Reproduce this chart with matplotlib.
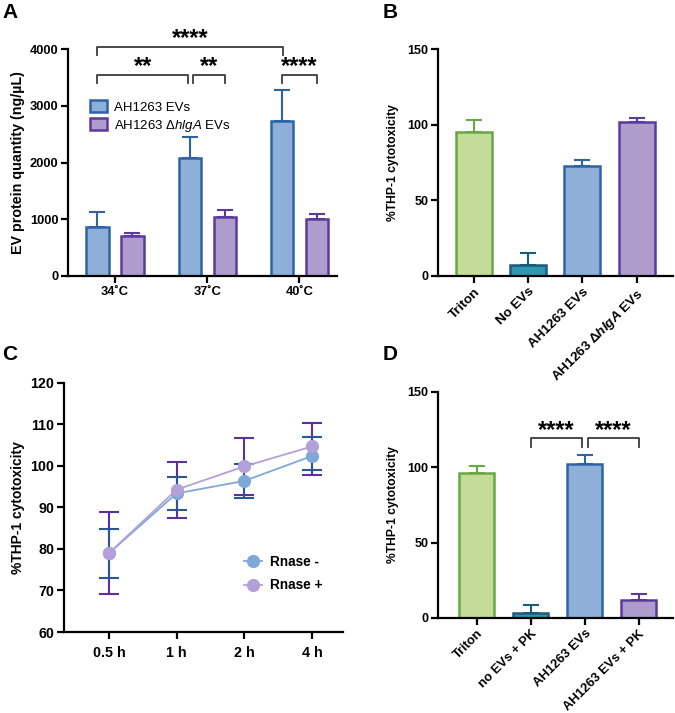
import numpy as np
import matplotlib
matplotlib.use("Agg")
import matplotlib.pyplot as plt
from matplotlib.patches import Patch
from matplotlib.lines import Line2D

plt.rcParams['font.family'] = ['Liberation Sans', 'DejaVu Sans']
plt.rcParams['mathtext.fontset'] = 'custom'
plt.rcParams['mathtext.it'] = 'Liberation Sans:italic'
plt.rcParams['mathtext.bf'] = 'Liberation Sans:bold'
plt.rcParams['mathtext.bfit'] = 'Liberation Sans:bold:italic'
plt.rcParams['mathtext.rm'] = 'Liberation Sans'

# ---- data ----
# panel A
temps = ['34˚C', '37˚C', '40˚C']
ev_wt = [870, 2075, 2740]
ev_wt_err = [265, 372, 535]
ev_ko = [712, 1035, 1000]
ev_ko_err = [53, 130, 88]

# panel B
b_groups = ['Triton', 'No EVs', 'AH1263 EVs', r'AH1263 Δ$\mathbfit{hlgA}$ EVs']
b_vals = [95.0, 7.5, 72.5, 101.7]
b_err = [7.9, 7.7, 3.9, 2.6]

# panel C
times = ['0.5 h', '1 h', '2 h', '4 h']
rn_minus = [79.0, 93.4, 96.4, 102.4]
rn_minus_lo = [73.0, 89.4, 92.2, 99.0]
rn_minus_hi = [84.9, 97.3, 100.6, 107.0]
rn_plus = [79.0, 94.3, 99.9, 104.7]
rn_plus_lo = [69.1, 87.4, 92.9, 97.9]
rn_plus_hi = [88.8, 100.9, 106.7, 110.4]

# panel D
d_groups = ['Triton', 'no EVs + PK', 'AH1263 EVs', 'AH1263 EVs + PK']
d_vals = [96.2, 3.3, 102.4, 11.7]
d_err = [4.5, 5.5, 6.0, 4.2]

# colours
GREEN = ('#c4dc98', '#67a845')
TEAL = ('#2e97b2', '#1d5b7c')
BLUE = ('#8eafd8', '#2e63a6')
PURPLE = ('#ae9ccc', '#5b3a9e')
BRACKET = '#3a3a3a'


def style_axes(ax, tick_size):
    for s in ['top', 'right']:
        ax.spines[s].set_visible(False)
    for s in ['left', 'bottom']:
        ax.spines[s].set_linewidth(1.6)
        ax.spines[s].set_color('black')
    ax.tick_params(width=1.6, length=5, labelsize=tick_size, pad=2)
    for lab in ax.get_yticklabels() + ax.get_xticklabels():
        lab.set_fontweight('bold')


def bar_with_err(ax, x, v, e, colors, width):
    fc, ec = colors
    ax.errorbar(x, v, yerr=[[0], [e]], fmt='none', ecolor=ec, elinewidth=1.5,
                capsize=6, capthick=1.5, zorder=1)
    ax.bar(x, v, width=width, color=fc, edgecolor=ec, linewidth=1.8, zorder=2)


def bracket(ax, x0, x1, y, leg, stars, ystar, fs=17):
    ax.plot([x0, x0, x1, x1], [y - leg, y, y, y - leg], color=BRACKET,
            lw=1.3, clip_on=False, zorder=3)
    ax.text((x0 + x1) / 2, ystar, stars, ha='center', va='center',
            fontsize=fs, fontweight='bold', clip_on=False)


fig = plt.figure(figsize=(6.75, 7.13), dpi=100)

# ---------------- A ----------------
axA = fig.add_axes([68 / 675, 1 - 276 / 713, 269 / 675, 227 / 713])
xa = np.arange(len(temps))
off, w = 0.19, 0.24
for i in range(len(temps)):
    bar_with_err(axA, xa[i] - off, ev_wt[i], ev_wt_err[i], BLUE, w)
    bar_with_err(axA, xa[i] + off, ev_ko[i], ev_ko_err[i], PURPLE, w)
axA.set_xlim(-0.51, 2.41)
axA.set_ylim(0, 4000)
axA.set_yticks([0, 1000, 2000, 3000, 4000])
axA.set_xticks(xa)
axA.set_xticklabels(temps)
axA.set_ylabel('EV protein quantity (ng/µL)', fontsize=10.3, fontweight='bold', labelpad=3)
style_axes(axA, 9.3)
bracket(axA, -0.19, 1.82, 4030, 136, '****', 4190)
bracket(axA, -0.19, 0.79, 3542, 141, '**', 3690)
bracket(axA, 0.845, 1.196, 3542, 141, '**', 3690)
bracket(axA, 1.81, 2.196, 3542, 141, '****', 3690)
handles = [Patch(facecolor=BLUE[0], edgecolor=BLUE[1], linewidth=1.8),
           Patch(facecolor=PURPLE[0], edgecolor=PURPLE[1], linewidth=1.8)]
axA.legend(handles, ['AH1263 EVs', r'AH1263 Δ$\mathit{hlgA}$ EVs'], loc='upper left',
           bbox_to_anchor=(0.082, 0.774), frameon=False, fontsize=9.5,
           handlelength=1.3, handleheight=1.0, handletextpad=0.5,
           labelspacing=0.3, borderpad=0, borderaxespad=0)

# ---------------- B ----------------
axB = fig.add_axes([438 / 675, 1 - 276 / 713, 235 / 675, 227 / 713])
xb = np.arange(len(b_groups))
b_cols = [GREEN, TEAL, BLUE, PURPLE]
for i in range(len(b_groups)):
    bar_with_err(axB, xb[i], b_vals[i], b_err[i], b_cols[i], 0.66)
axB.set_xlim(-0.66, 3.67)
axB.set_ylim(0, 150)
axB.set_yticks([0, 50, 100, 150])
axB.set_xticks(xb)
axB.set_xticklabels(b_groups, rotation=45, ha='right', rotation_mode='anchor')
axB.set_ylabel('%THP-1 cytotoxicity', fontsize=8.7, fontweight='bold', labelpad=6)
style_axes(axB, 9)
for lab in axB.get_xticklabels():
    lab.set_fontsize(9.7)

# ---------------- C ----------------
axC = fig.add_axes([64 / 675, 1 - 632 / 713, 279 / 675, 249 / 713])
xc = np.arange(len(times))
lo_m = np.array(rn_minus) - np.array(rn_minus_lo)
hi_m = np.array(rn_minus_hi) - np.array(rn_minus)
lo_p = np.array(rn_plus) - np.array(rn_plus_lo)
hi_p = np.array(rn_plus_hi) - np.array(rn_plus)
axC.errorbar(xc, rn_plus, yerr=[lo_p, hi_p], fmt='none', ecolor='#5a30a0',
             elinewidth=1.5, capsize=7, capthick=1.5, zorder=1)
axC.errorbar(xc, rn_minus, yerr=[lo_m, hi_m], fmt='none', ecolor='#2a5698',
             elinewidth=1.5, capsize=7, capthick=1.5, zorder=2)
axC.plot(xc, rn_minus, '-o', color='#7fa8da', lw=1.3, ms=8.5, zorder=3)
axC.plot(xc, rn_plus, '-o', color='#b3a0d8', lw=1.3, ms=8.5, zorder=4)
axC.set_xlim(-0.665, 3.46)
axC.set_ylim(60, 120)
axC.set_yticks(np.arange(60, 121, 10))
axC.set_xticks(xc)
axC.set_xticklabels(times)
axC.set_ylabel('%THP-1 cytotoxicity', fontsize=10, fontweight='bold', labelpad=4)
style_axes(axC, 10.3)
axC.tick_params(axis='x', pad=5)
hC = [Line2D([0], [0], color='#7fa8da', marker='o', ms=8.5, lw=1.3),
      Line2D([0], [0], color='#b3a0d8', marker='o', ms=8.5, lw=1.3)]
legC = axC.legend(hC, ['Rnase -', 'Rnase +'], loc='upper left',
                  bbox_to_anchor=(0.645, 0.31), frameon=False, fontsize=9.8,
                  handlelength=1.3, handletextpad=0.6, labelspacing=0.7,
                  borderpad=0, borderaxespad=0)
for t in legC.get_texts():
    t.set_fontweight('bold')

# ---------------- D ----------------
axD = fig.add_axes([438 / 675, 1 - 618 / 713, 235 / 675, 226 / 713])
xd = np.arange(len(d_groups))
d_cols = [GREEN, TEAL, BLUE, PURPLE]
for i in range(len(d_groups)):
    bar_with_err(axD, xd[i], d_vals[i], d_err[i], d_cols[i], 0.65)
axD.set_xlim(-0.72, 3.64)
axD.set_ylim(0, 150)
axD.set_yticks([0, 50, 100, 150])
axD.set_xticks(xd)
axD.set_xticklabels(d_groups, rotation=45, ha='right', rotation_mode='anchor')
axD.set_ylabel('%THP-1 cytotoxicity', fontsize=8.7, fontweight='bold', labelpad=6)
style_axes(axD, 9)
for lab in axD.get_xticklabels():
    lab.set_fontsize(9.3)
bracket(axD, 1.0, 1.96, 119.3, 5.6, '****', 124.5)
bracket(axD, 2.06, 3.0, 119.3, 5.6, '****', 124.5)

# panel letters
for lab, x, y in [('A', 2, 3), ('B', 383, 3), ('C', 2, 345), ('D', 383, 345)]:
    fig.text(x / 675, 1 - y / 713, lab, ha='left', va='top', fontsize=15,
             fontweight='bold')

fig.savefig('out.png', dpi=100)
